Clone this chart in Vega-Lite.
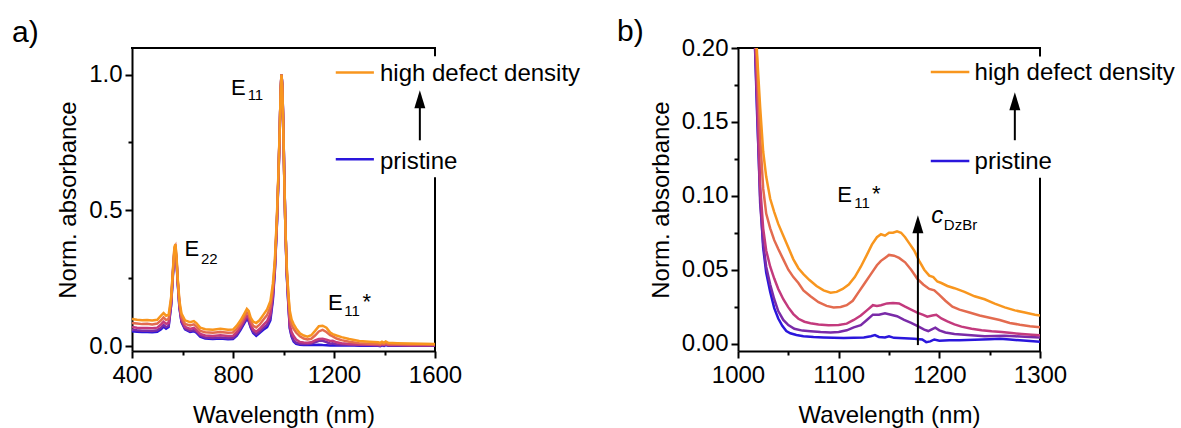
{
  "$schema": "https://vega.github.io/schema/vega-lite/v6.json",
  "padding": {"left": 12, "top": 16, "right": 5, "bottom": 2},
  "bounds": "flush",
  "spacing": 303,
  "config": {
    "view": {"stroke": null},
    "font": "Liberation Sans",
    "title": {"font": "Liberation Sans", "fontSize": 30, "fontWeight": "normal", "color": "black"},
    "axis": {
      "domainColor": "black", "domainWidth": 2, "tickColor": "black", "tickWidth": 2,
      "labelFont": "Liberation Sans", "titleFont": "Liberation Sans",
      "labelFontSize": 24, "titleFontSize": 24, "titleFontWeight": "normal",
      "labelColor": "black", "titleColor": "black", "grid": false,
      "labelFlush": false, "labelOverlap": false
    },
    "axisX": {"labelPadding": 5, "titlePadding": 16},
    "axisY": {"labelPadding": 3, "titlePadding": 8}
  },
  "datasets": {
    "specA": [
      {"w":400,"O":0.100,"C":0.085,"M":0.070,"P":0.060,"B":0.055},
      {"w":420,"O":0.097,"C":0.083,"M":0.068,"P":0.058,"B":0.053},
      {"w":440,"O":0.095,"C":0.081,"M":0.067,"P":0.057,"B":0.052},
      {"w":460,"O":0.096,"C":0.082,"M":0.067,"P":0.057,"B":0.052},
      {"w":480,"O":0.094,"C":0.080,"M":0.066,"P":0.056,"B":0.051},
      {"w":500,"O":0.097,"C":0.083,"M":0.068,"P":0.058,"B":0.053},
      {"w":515,"O":0.112,"C":0.095,"M":0.080,"P":0.068,"B":0.062},
      {"w":525,"O":0.122,"C":0.106,"M":0.090,"P":0.078,"B":0.072},
      {"w":535,"O":0.112,"C":0.096,"M":0.082,"P":0.070,"B":0.064},
      {"w":545,"O":0.115,"C":0.100,"M":0.086,"P":0.075,"B":0.070},
      {"w":555,"O":0.180,"C":0.170,"M":0.162,"P":0.155,"B":0.150},
      {"w":562,"O":0.280,"C":0.275,"M":0.270,"P":0.265,"B":0.260},
      {"w":568,"O":0.365,"C":0.360,"M":0.352,"P":0.348,"B":0.345},
      {"w":572,"O":0.375,"C":0.368,"M":0.360,"P":0.355,"B":0.350},
      {"w":576,"O":0.335,"C":0.328,"M":0.322,"P":0.318,"B":0.315},
      {"w":581,"O":0.250,"C":0.245,"M":0.240,"P":0.237,"B":0.233},
      {"w":588,"O":0.165,"C":0.155,"M":0.148,"P":0.143,"B":0.140},
      {"w":596,"O":0.120,"C":0.108,"M":0.098,"P":0.092,"B":0.088},
      {"w":610,"O":0.095,"C":0.082,"M":0.071,"P":0.065,"B":0.062},
      {"w":630,"O":0.088,"C":0.076,"M":0.063,"P":0.056,"B":0.052},
      {"w":645,"O":0.092,"C":0.080,"M":0.067,"P":0.059,"B":0.055},
      {"w":655,"O":0.085,"C":0.072,"M":0.060,"P":0.053,"B":0.050},
      {"w":670,"O":0.068,"C":0.056,"M":0.045,"P":0.039,"B":0.035},
      {"w":690,"O":0.062,"C":0.051,"M":0.039,"P":0.032,"B":0.028},
      {"w":720,"O":0.060,"C":0.049,"M":0.037,"P":0.030,"B":0.026},
      {"w":750,"O":0.064,"C":0.052,"M":0.040,"P":0.032,"B":0.028},
      {"w":780,"O":0.060,"C":0.049,"M":0.037,"P":0.029,"B":0.025},
      {"w":800,"O":0.061,"C":0.050,"M":0.038,"P":0.030,"B":0.026},
      {"w":815,"O":0.075,"C":0.063,"M":0.051,"P":0.043,"B":0.038},
      {"w":830,"O":0.095,"C":0.083,"M":0.072,"P":0.065,"B":0.060},
      {"w":845,"O":0.120,"C":0.108,"M":0.097,"P":0.090,"B":0.085},
      {"w":855,"O":0.137,"C":0.124,"M":0.112,"P":0.105,"B":0.100},
      {"w":862,"O":0.130,"C":0.117,"M":0.105,"P":0.097,"B":0.092},
      {"w":870,"O":0.105,"C":0.092,"M":0.080,"P":0.072,"B":0.068},
      {"w":880,"O":0.090,"C":0.075,"M":0.061,"P":0.053,"B":0.048},
      {"w":892,"O":0.085,"C":0.069,"M":0.053,"P":0.044,"B":0.038},
      {"w":905,"O":0.095,"C":0.079,"M":0.063,"P":0.054,"B":0.048},
      {"w":920,"O":0.115,"C":0.097,"M":0.078,"P":0.067,"B":0.060},
      {"w":935,"O":0.135,"C":0.114,"M":0.092,"P":0.079,"B":0.070},
      {"w":948,"O":0.165,"C":0.144,"M":0.120,"P":0.104,"B":0.095},
      {"w":958,"O":0.230,"C":0.212,"M":0.193,"P":0.180,"B":0.170},
      {"w":966,"O":0.320,"C":0.306,"M":0.295,"P":0.287,"B":0.280},
      {"w":974,"O":0.480,"C":0.470,"M":0.462,"P":0.455,"B":0.450},
      {"w":980,"O":0.640,"C":0.633,"M":0.628,"P":0.623,"B":0.620},
      {"w":985,"O":0.800,"C":0.797,"M":0.794,"P":0.792,"B":0.790},
      {"w":989,"O":0.950,"C":0.948,"M":0.947,"P":0.946,"B":0.945},
      {"w":992,"O":1.000,"C":1.000,"M":1.000,"P":1.000,"B":1.000},
      {"w":995,"O":0.960,"C":0.961,"M":0.962,"P":0.964,"B":0.965},
      {"w":999,"O":0.820,"C":0.822,"M":0.825,"P":0.828,"B":0.830},
      {"w":1003,"O":0.620,"C":0.622,"M":0.625,"P":0.628,"B":0.630},
      {"w":1008,"O":0.420,"C":0.420,"M":0.420,"P":0.420,"B":0.420},
      {"w":1013,"O":0.290,"C":0.282,"M":0.272,"P":0.266,"B":0.260},
      {"w":1019,"O":0.195,"C":0.190,"M":0.170,"P":0.160,"B":0.155},
      {"w":1025,"O":0.130,"C":0.105,"M":0.078,"P":0.068,"B":0.065},
      {"w":1032,"O":0.098,"C":0.078,"M":0.052,"P":0.040,"B":0.035},
      {"w":1040,"O":0.081,"C":0.064,"M":0.037,"P":0.022,"B":0.017},
      {"w":1050,"O":0.065,"C":0.050,"M":0.0245,"P":0.0125,"B":0.0085},
      {"w":1065,"O":0.047,"C":0.036,"M":0.0148,"P":0.0088,"B":0.005},
      {"w":1080,"O":0.039,"C":0.028,"M":0.013,"P":0.0078,"B":0.0045},
      {"w":1095,"O":0.035,"C":0.0245,"M":0.0125,"P":0.0075,"B":0.004},
      {"w":1110,"O":0.040,"C":0.027,"M":0.014,"P":0.0095,"B":0.0039},
      {"w":1125,"O":0.056,"C":0.039,"M":0.021,"P":0.014,"B":0.0042},
      {"w":1140,"O":0.073,"C":0.054,"M":0.026,"P":0.0195,"B":0.005},
      {"w":1155,"O":0.075,"C":0.0595,"M":0.0275,"P":0.0195,"B":0.0039},
      {"w":1170,"O":0.068,"C":0.052,"M":0.024,"P":0.015,"B":0.0035},
      {"w":1185,"O":0.050,"C":0.040,"M":0.019,"P":0.009,"B":0.0025},
      {"w":1195,"O":0.044,"C":0.036,"M":0.0195,"P":0.0108,"B":0.0028},
      {"w":1210,"O":0.039,"C":0.028,"M":0.014,"P":0.0072,"B":0.0022},
      {"w":1230,"O":0.033,"C":0.022,"M":0.0105,"P":0.006,"B":0.0025},
      {"w":1260,"O":0.026,"C":0.016,"M":0.0078,"P":0.0052,"B":0.0033},
      {"w":1300,"O":0.019,"C":0.011,"M":0.0057,"P":0.0042,"B":0.0012},
      {"w":1340,"O":0.016,"C":0.009,"M":0.005,"P":0.0038,"B":0.0015},
      {"w":1375,"O":0.014,"C":0.008,"M":0.0045,"P":0.0035,"B":0.0015},
      {"w":1383,"O":0.012,"C":0.006,"M":0.003,"P":0.002,"B":0.000},
      {"w":1390,"O":0.016,"C":0.010,"M":0.006,"P":0.005,"B":0.003},
      {"w":1398,"O":0.012,"C":0.007,"M":0.004,"P":0.003,"B":0.001},
      {"w":1405,"O":0.017,"C":0.011,"M":0.007,"P":0.006,"B":0.004},
      {"w":1415,"O":0.012,"C":0.007,"M":0.004,"P":0.003,"B":0.0015},
      {"w":1450,"O":0.011,"C":0.007,"M":0.004,"P":0.003,"B":0.0015},
      {"w":1500,"O":0.010,"C":0.006,"M":0.0035,"P":0.0025,"B":0.0012},
      {"w":1550,"O":0.009,"C":0.006,"M":0.003,"P":0.0022,"B":0.001},
      {"w":1600,"O":0.008,"C":0.005,"M":0.003,"P":0.002,"B":0.001}
    ],
    "specB": [
      {"s":"B","w":1016,"a":0.22},{"s":"B","w":1019,"a":0.155},{"s":"B","w":1022,"a":0.10},{"s":"B","w":1025,"a":0.065},{"s":"B","w":1028,"a":0.048},{"s":"B","w":1032,"a":0.035},{"s":"B","w":1036,"a":0.024},{"s":"B","w":1040,"a":0.017},{"s":"B","w":1044,"a":0.012},{"s":"B","w":1048,"a":0.0085},{"s":"B","w":1052,"a":0.007},{"s":"B","w":1058,"a":0.0058},{"s":"B","w":1065,"a":0.005},{"s":"B","w":1075,"a":0.0045},{"s":"B","w":1085,"a":0.0042},{"s":"B","w":1095,"a":0.004},{"s":"B","w":1105,"a":0.0038},{"s":"B","w":1115,"a":0.004},{"s":"B","w":1125,"a":0.0042},{"s":"B","w":1132,"a":0.005},{"s":"B","w":1136,"a":0.0058},{"s":"B","w":1140,"a":0.0045},{"s":"B","w":1146,"a":0.0042},{"s":"B","w":1150,"a":0.005},{"s":"B","w":1155,"a":0.0039},{"s":"B","w":1165,"a":0.0036},{"s":"B","w":1175,"a":0.0033},{"s":"B","w":1183,"a":0.0028},{"s":"B","w":1187,"a":0.001},{"s":"B","w":1191,"a":0.0015},{"s":"B","w":1195,"a":0.0028},{"s":"B","w":1200,"a":0.002},{"s":"B","w":1210,"a":0.0022},{"s":"B","w":1220,"a":0.0023},{"s":"B","w":1235,"a":0.0026},{"s":"B","w":1250,"a":0.003},{"s":"B","w":1260,"a":0.0033},{"s":"B","w":1270,"a":0.0028},{"s":"B","w":1280,"a":0.0022},{"s":"B","w":1290,"a":0.0017},{"s":"B","w":1300,"a":0.0012},
      {"s":"P","w":1016,"a":0.22},{"s":"P","w":1019,"a":0.16},{"s":"P","w":1022,"a":0.095},{"s":"P","w":1025,"a":0.068},{"s":"P","w":1028,"a":0.052},{"s":"P","w":1032,"a":0.040},{"s":"P","w":1036,"a":0.030},{"s":"P","w":1040,"a":0.022},{"s":"P","w":1045,"a":0.016},{"s":"P","w":1050,"a":0.0125},{"s":"P","w":1056,"a":0.010},{"s":"P","w":1064,"a":0.0088},{"s":"P","w":1072,"a":0.0083},{"s":"P","w":1082,"a":0.0078},{"s":"P","w":1092,"a":0.0075},{"s":"P","w":1100,"a":0.0078},{"s":"P","w":1108,"a":0.009},{"s":"P","w":1115,"a":0.011},{"s":"P","w":1122,"a":0.0125},{"s":"P","w":1128,"a":0.016},{"s":"P","w":1134,"a":0.0196},{"s":"P","w":1140,"a":0.0195},{"s":"P","w":1146,"a":0.0205},{"s":"P","w":1152,"a":0.0195},{"s":"P","w":1158,"a":0.0185},{"s":"P","w":1165,"a":0.016},{"s":"P","w":1172,"a":0.014},{"s":"P","w":1179,"a":0.0117},{"s":"P","w":1185,"a":0.0095},{"s":"P","w":1189,"a":0.0085},{"s":"P","w":1192,"a":0.0095},{"s":"P","w":1196,"a":0.0108},{"s":"P","w":1200,"a":0.009},{"s":"P","w":1206,"a":0.0075},{"s":"P","w":1215,"a":0.0065},{"s":"P","w":1225,"a":0.006},{"s":"P","w":1235,"a":0.0055},{"s":"P","w":1245,"a":0.005},{"s":"P","w":1255,"a":0.0052},{"s":"P","w":1265,"a":0.0053},{"s":"P","w":1275,"a":0.005},{"s":"P","w":1285,"a":0.0046},{"s":"P","w":1300,"a":0.0042},
      {"s":"M","w":1016,"a":0.23},{"s":"M","w":1019,"a":0.17},{"s":"M","w":1022,"a":0.107},{"s":"M","w":1025,"a":0.078},{"s":"M","w":1028,"a":0.063},{"s":"M","w":1032,"a":0.052},{"s":"M","w":1036,"a":0.044},{"s":"M","w":1040,"a":0.037},{"s":"M","w":1045,"a":0.030},{"s":"M","w":1050,"a":0.0245},{"s":"M","w":1055,"a":0.020},{"s":"M","w":1060,"a":0.0168},{"s":"M","w":1066,"a":0.0148},{"s":"M","w":1072,"a":0.0138},{"s":"M","w":1080,"a":0.013},{"s":"M","w":1090,"a":0.0125},{"s":"M","w":1100,"a":0.0126},{"s":"M","w":1108,"a":0.0135},{"s":"M","w":1115,"a":0.016},{"s":"M","w":1122,"a":0.019},{"s":"M","w":1128,"a":0.0225},{"s":"M","w":1134,"a":0.026},{"s":"M","w":1138,"a":0.0255},{"s":"M","w":1142,"a":0.026},{"s":"M","w":1148,"a":0.0272},{"s":"M","w":1154,"a":0.0275},{"s":"M","w":1160,"a":0.0272},{"s":"M","w":1166,"a":0.025},{"s":"M","w":1172,"a":0.023},{"s":"M","w":1178,"a":0.021},{"s":"M","w":1184,"a":0.0195},{"s":"M","w":1188,"a":0.0182},{"s":"M","w":1193,"a":0.019},{"s":"M","w":1197,"a":0.0195},{"s":"M","w":1202,"a":0.017},{"s":"M","w":1208,"a":0.015},{"s":"M","w":1215,"a":0.013},{"s":"M","w":1222,"a":0.0115},{"s":"M","w":1232,"a":0.010},{"s":"M","w":1242,"a":0.009},{"s":"M","w":1252,"a":0.0083},{"s":"M","w":1262,"a":0.0078},{"s":"M","w":1272,"a":0.0071},{"s":"M","w":1282,"a":0.0065},{"s":"M","w":1292,"a":0.006},{"s":"M","w":1300,"a":0.0057},
      {"s":"C","w":1016,"a":0.24},{"s":"C","w":1019,"a":0.19},{"s":"C","w":1022,"a":0.14},{"s":"C","w":1025,"a":0.105},{"s":"C","w":1028,"a":0.088},{"s":"C","w":1032,"a":0.078},{"s":"C","w":1036,"a":0.070},{"s":"C","w":1040,"a":0.064},{"s":"C","w":1045,"a":0.057},{"s":"C","w":1050,"a":0.050},{"s":"C","w":1055,"a":0.045},{"s":"C","w":1060,"a":0.041},{"s":"C","w":1065,"a":0.036},{"s":"C","w":1072,"a":0.032},{"s":"C","w":1080,"a":0.028},{"s":"C","w":1088,"a":0.0255},{"s":"C","w":1095,"a":0.0245},{"s":"C","w":1102,"a":0.0248},{"s":"C","w":1108,"a":0.026},{"s":"C","w":1114,"a":0.029},{"s":"C","w":1120,"a":0.035},{"s":"C","w":1126,"a":0.041},{"s":"C","w":1132,"a":0.047},{"s":"C","w":1138,"a":0.053},{"s":"C","w":1142,"a":0.056},{"s":"C","w":1146,"a":0.058},{"s":"C","w":1150,"a":0.060},{"s":"C","w":1155,"a":0.0595},{"s":"C","w":1160,"a":0.058},{"s":"C","w":1166,"a":0.055},{"s":"C","w":1172,"a":0.050},{"s":"C","w":1178,"a":0.044},{"s":"C","w":1184,"a":0.040},{"s":"C","w":1190,"a":0.037},{"s":"C","w":1195,"a":0.036},{"s":"C","w":1200,"a":0.033},{"s":"C","w":1206,"a":0.029},{"s":"C","w":1213,"a":0.025},{"s":"C","w":1220,"a":0.023},{"s":"C","w":1230,"a":0.021},{"s":"C","w":1240,"a":0.019},{"s":"C","w":1250,"a":0.0175},{"s":"C","w":1260,"a":0.016},{"s":"C","w":1270,"a":0.014},{"s":"C","w":1280,"a":0.0128},{"s":"C","w":1290,"a":0.0118},{"s":"C","w":1300,"a":0.011},
      {"s":"O","w":1016,"a":0.24},{"s":"O","w":1019,"a":0.195},{"s":"O","w":1022,"a":0.16},{"s":"O","w":1025,"a":0.13},{"s":"O","w":1028,"a":0.113},{"s":"O","w":1032,"a":0.098},{"s":"O","w":1036,"a":0.089},{"s":"O","w":1040,"a":0.081},{"s":"O","w":1045,"a":0.073},{"s":"O","w":1050,"a":0.065},{"s":"O","w":1055,"a":0.057},{"s":"O","w":1060,"a":0.051},{"s":"O","w":1065,"a":0.047},{"s":"O","w":1071,"a":0.043},{"s":"O","w":1078,"a":0.039},{"s":"O","w":1085,"a":0.036},{"s":"O","w":1092,"a":0.0345},{"s":"O","w":1098,"a":0.035},{"s":"O","w":1104,"a":0.037},{"s":"O","w":1110,"a":0.040},{"s":"O","w":1116,"a":0.045},{"s":"O","w":1122,"a":0.052},{"s":"O","w":1128,"a":0.060},{"s":"O","w":1133,"a":0.067},{"s":"O","w":1138,"a":0.072},{"s":"O","w":1142,"a":0.074},{"s":"O","w":1146,"a":0.073},{"s":"O","w":1150,"a":0.075},{"s":"O","w":1154,"a":0.075},{"s":"O","w":1158,"a":0.076},{"s":"O","w":1162,"a":0.075},{"s":"O","w":1166,"a":0.072},{"s":"O","w":1170,"a":0.068},{"s":"O","w":1175,"a":0.063},{"s":"O","w":1180,"a":0.056},{"s":"O","w":1185,"a":0.050},{"s":"O","w":1190,"a":0.046},{"s":"O","w":1194,"a":0.045},{"s":"O","w":1198,"a":0.042},{"s":"O","w":1202,"a":0.041},{"s":"O","w":1208,"a":0.039},{"s":"O","w":1215,"a":0.0375},{"s":"O","w":1225,"a":0.035},{"s":"O","w":1235,"a":0.032},{"s":"O","w":1245,"a":0.030},{"s":"O","w":1255,"a":0.027},{"s":"O","w":1265,"a":0.0245},{"s":"O","w":1275,"a":0.0225},{"s":"O","w":1285,"a":0.021},{"s":"O","w":1295,"a":0.0195},{"s":"O","w":1300,"a":0.019}
    ]
  },
  "hconcat": [
    {
      "width": 303, "height": 303,
      "title": {"text": "a)", "anchor": "start", "frame": "group", "dx": -120, "offset": -25, "baseline": "alphabetic"},
      "resolve": {"axis": {"x": "independent", "y": "independent"}},
      "layer": [
        {
          "data": {"values": [
            {"x1":400,"x2":1600,"y1":1.098,"y2":1.098},
            {"x1":1600,"x2":1600,"y1":-0.018,"y2":0.618},
            {"x1":1600,"x2":1600,"y1":1.071,"y2":1.098}
          ]},
          "mark": {"type": "rule", "color": "black", "strokeWidth": 2, "strokeCap": "square"},
          "encoding": {
            "x": {"field": "x1", "type": "quantitative", "scale": {"domain": [400, 1600], "nice": false, "zero": false},
              "axis": {"orient": "bottom", "title": "Wavelength (nm)", "values": [400, 600, 800, 1000, 1200, 1400, 1600], "format": "d",
                "labelExpr": "datum.value % 400 === 0 ? datum.label : ''",
                "tickSize": {"condition": {"test": "datum.value % 400 === 0", "value": 7}, "value": 4}}},
            "x2": {"field": "x2"},
            "y": {"field": "y1", "type": "quantitative", "scale": {"domain": [-0.018, 1.098], "nice": false, "zero": false},
              "axis": {"orient": "left", "title": "Norm. absorbance", "values": [0, 0.25, 0.5, 0.75, 1.0], "format": ".1f",
                "labelExpr": "abs(datum.value*2 - round(datum.value*2)) < 0.000001 ? datum.label : ''",
                "tickSize": {"condition": {"test": "abs(datum.value*2 - round(datum.value*2)) < 0.000001", "value": 7}, "value": 4}}},
            "y2": {"field": "y2"}
          }
        },
        {
          "data": {"name": "specA"},
          "transform": [{"fold": ["B", "P", "M", "C", "O"], "as": ["s", "a"]}],
          "mark": {"type": "line", "strokeWidth": 2.5},
          "encoding": {
            "x": {"field": "w", "type": "quantitative", "scale": {"domain": [400, 1600], "nice": false, "zero": false}, "axis": null},
            "y": {"field": "a", "type": "quantitative", "scale": {"domain": [-0.018, 1.098], "nice": false, "zero": false}, "axis": null},
            "color": {"field": "s", "type": "nominal", "scale": {"domain": ["B", "P", "M", "C", "O"], "range": ["#2a16dc", "#7a2ba8", "#c33a7d", "#e36b4f", "#f8961e"]}, "legend": null}
          }
        },
        {
          "data": {"values": [
            {"x1":1207,"x2":1358,"y":1.0074,"s":"O"},
            {"x1":1207,"x2":1358,"y":0.688,"s":"B"}
          ]},
          "mark": {"type": "rule", "strokeWidth": 2.5},
          "encoding": {
            "x": {"field": "x1", "type": "quantitative", "scale": {"domain": [400, 1600], "nice": false, "zero": false}, "axis": null},
            "x2": {"field": "x2"},
            "y": {"field": "y", "type": "quantitative", "scale": {"domain": [-0.018, 1.098], "nice": false, "zero": false}, "axis": null},
            "color": {"field": "s", "type": "nominal", "scale": {"domain": ["B", "P", "M", "C", "O"], "range": ["#2a16dc", "#7a2ba8", "#c33a7d", "#e36b4f", "#f8961e"]}, "legend": null}
          }
        },
        {
          "data": {"values": [
            {"x":1382,"y":0.9764,"t":"high defect density"},
            {"x":1382,"y":0.6537,"t":"pristine"}
          ]},
          "mark": {"type": "text", "fontSize": 24, "align": "left", "baseline": "alphabetic", "color": "black"},
          "encoding": {
            "x": {"field": "x", "type": "quantitative", "scale": {"domain": [400, 1600], "nice": false, "zero": false}, "axis": null},
            "y": {"field": "y", "type": "quantitative", "scale": {"domain": [-0.018, 1.098], "nice": false, "zero": false}, "axis": null},
            "text": {"field": "t"}
          }
        },
        {
          "data": {"values": [{"x":1540,"y1":0.758,"y2":0.9}]},
          "mark": {"type": "rule", "color": "black", "strokeWidth": 2},
          "encoding": {
            "x": {"field": "x", "type": "quantitative", "scale": {"domain": [400, 1600], "nice": false, "zero": false}, "axis": null},
            "y": {"field": "y1", "type": "quantitative", "scale": {"domain": [-0.018, 1.098], "nice": false, "zero": false}, "axis": null},
            "y2": {"field": "y2"}
          }
        },
        {
          "data": {"values": [{"x":1540,"y":0.909}]},
          "mark": {"type": "point", "shape": "M0,-1L0.61,1L-0.61,1Z", "size": 324, "filled": true, "color": "black", "opacity": 1},
          "encoding": {
            "x": {"field": "x", "type": "quantitative", "scale": {"domain": [400, 1600], "nice": false, "zero": false}, "axis": null},
            "y": {"field": "y", "type": "quantitative", "scale": {"domain": [-0.018, 1.098], "nice": false, "zero": false}, "axis": null}
          }
        },
        {
          "data": {"values": [
            {"x":792,"y":0.925,"t":"E"},
            {"x":608,"y":0.3305,"t":"E"},
            {"x":1176,"y":0.1315,"t":"E"},
            {"x":1313,"y":0.1363,"t":"*"}
          ]},
          "mark": {"type": "text", "fontSize": 22, "align": "left", "baseline": "alphabetic", "color": "black"},
          "encoding": {
            "x": {"field": "x", "type": "quantitative", "scale": {"domain": [400, 1600], "nice": false, "zero": false}, "axis": null},
            "y": {"field": "y", "type": "quantitative", "scale": {"domain": [-0.018, 1.098], "nice": false, "zero": false}, "axis": null},
            "text": {"field": "t"}
          }
        },
        {
          "data": {"values": [
            {"x":858,"y":0.905,"t":"11"},
            {"x":673,"y":0.3036,"t":"22"},
            {"x":1241,"y":0.1094,"t":"11"}
          ]},
          "mark": {"type": "text", "fontSize": 15, "align": "left", "baseline": "alphabetic", "color": "black"},
          "encoding": {
            "x": {"field": "x", "type": "quantitative", "scale": {"domain": [400, 1600], "nice": false, "zero": false}, "axis": null},
            "y": {"field": "y", "type": "quantitative", "scale": {"domain": [-0.018, 1.098], "nice": false, "zero": false}, "axis": null},
            "text": {"field": "t"}
          }
        }
      ]
    },
    {
      "width": 302, "height": 303,
      "title": {"text": "b)", "anchor": "start", "frame": "group", "dx": -121, "offset": -34.6, "baseline": "alphabetic"},
      "resolve": {"axis": {"x": "independent", "y": "independent"}},
      "layer": [
        {
          "data": {"values": [
            {"x1":1000,"x2":1300,"y1":0.2,"y2":0.2},
            {"x1":1300,"x2":1300,"y1":-0.005,"y2":0.1116},
            {"x1":1300,"x2":1300,"y1":0.195,"y2":0.2}
          ]},
          "mark": {"type": "rule", "color": "black", "strokeWidth": 2, "strokeCap": "square"},
          "encoding": {
            "x": {"field": "x1", "type": "quantitative", "scale": {"domain": [1000, 1300], "nice": false, "zero": false},
              "axis": {"orient": "bottom", "title": "Wavelength (nm)", "values": [1000, 1050, 1100, 1150, 1200, 1250, 1300], "format": "d",
                "labelExpr": "datum.value % 100 === 0 ? datum.label : ''",
                "tickSize": {"condition": {"test": "datum.value % 100 === 0", "value": 7}, "value": 4}}},
            "x2": {"field": "x2"},
            "y": {"field": "y1", "type": "quantitative", "scale": {"domain": [-0.005, 0.2], "nice": false, "zero": false},
              "axis": {"orient": "left", "title": "Norm. absorbance", "values": [0, 0.025, 0.05, 0.075, 0.1, 0.125, 0.15, 0.175, 0.2], "format": ".2f",
                "labelExpr": "abs(datum.value*20 - round(datum.value*20)) < 0.000001 ? datum.label : ''",
                "tickSize": {"condition": {"test": "abs(datum.value*20 - round(datum.value*20)) < 0.000001", "value": 7}, "value": 4}}},
            "y2": {"field": "y2"}
          }
        },
        {
          "data": {"name": "specB"},
          "mark": {"type": "line", "strokeWidth": 2.5, "clip": true},
          "encoding": {
            "x": {"field": "w", "type": "quantitative", "scale": {"domain": [1000, 1300], "nice": false, "zero": false}, "axis": null},
            "y": {"field": "a", "type": "quantitative", "scale": {"domain": [-0.005, 0.2], "nice": false, "zero": false}, "axis": null},
            "color": {"field": "s", "type": "nominal", "scale": {"domain": ["B", "P", "M", "C", "O"], "range": ["#2a16dc", "#7a2ba8", "#c33a7d", "#e36b4f", "#f8961e"]}, "legend": null}
          }
        },
        {
          "data": {"values": [
            {"x1":1191.5,"x2":1229.8,"y":0.1838,"s":"O"},
            {"x1":1191.5,"x2":1229.8,"y":0.1236,"s":"B"}
          ]},
          "mark": {"type": "rule", "strokeWidth": 2.5},
          "encoding": {
            "x": {"field": "x1", "type": "quantitative", "scale": {"domain": [1000, 1300], "nice": false, "zero": false}, "axis": null},
            "x2": {"field": "x2"},
            "y": {"field": "y", "type": "quantitative", "scale": {"domain": [-0.005, 0.2], "nice": false, "zero": false}, "axis": null},
            "color": {"field": "s", "type": "nominal", "scale": {"domain": ["B", "P", "M", "C", "O"], "range": ["#2a16dc", "#7a2ba8", "#c33a7d", "#e36b4f", "#f8961e"]}, "legend": null}
          }
        },
        {
          "data": {"values": [
            {"x":1235,"y":0.1781,"t":"high defect density"},
            {"x":1235,"y":0.1184,"t":"pristine"}
          ]},
          "mark": {"type": "text", "fontSize": 24, "align": "left", "baseline": "alphabetic", "color": "black"},
          "encoding": {
            "x": {"field": "x", "type": "quantitative", "scale": {"domain": [1000, 1300], "nice": false, "zero": false}, "axis": null},
            "y": {"field": "y", "type": "quantitative", "scale": {"domain": [-0.005, 0.2], "nice": false, "zero": false}, "axis": null},
            "text": {"field": "t"}
          }
        },
        {
          "data": {"values": [
            {"x":1275,"y1":0.1376,"y2":0.16},
            {"x":1178.7,"y1":-0.001,"y2":0.078}
          ]},
          "mark": {"type": "rule", "color": "black", "strokeWidth": 2},
          "encoding": {
            "x": {"field": "x", "type": "quantitative", "scale": {"domain": [1000, 1300], "nice": false, "zero": false}, "axis": null},
            "y": {"field": "y1", "type": "quantitative", "scale": {"domain": [-0.005, 0.2], "nice": false, "zero": false}, "axis": null},
            "y2": {"field": "y2"}
          }
        },
        {
          "data": {"values": [{"x":1275,"y":0.164},{"x":1178.7,"y":0.0807}]},
          "mark": {"type": "point", "shape": "M0,-1L0.61,1L-0.61,1Z", "size": 324, "filled": true, "color": "black", "opacity": 1},
          "encoding": {
            "x": {"field": "x", "type": "quantitative", "scale": {"domain": [1000, 1300], "nice": false, "zero": false}, "axis": null},
            "y": {"field": "y", "type": "quantitative", "scale": {"domain": [-0.005, 0.2], "nice": false, "zero": false}, "axis": null}
          }
        },
        {
          "data": {"values": [
            {"x":1098.5,"y":0.0958,"t":"E"},
            {"x":1133,"y":0.0963,"t":"*"}
          ]},
          "mark": {"type": "text", "fontSize": 22, "align": "left", "baseline": "alphabetic", "color": "black"},
          "encoding": {
            "x": {"field": "x", "type": "quantitative", "scale": {"domain": [1000, 1300], "nice": false, "zero": false}, "axis": null},
            "y": {"field": "y", "type": "quantitative", "scale": {"domain": [-0.005, 0.2], "nice": false, "zero": false}, "axis": null},
            "text": {"field": "t"}
          }
        },
        {
          "data": {"values": [{"x":1192,"y":0.0816,"t":"c"}]},
          "mark": {"type": "text", "fontSize": 24, "fontStyle": "italic", "align": "left", "baseline": "alphabetic", "color": "black"},
          "encoding": {
            "x": {"field": "x", "type": "quantitative", "scale": {"domain": [1000, 1300], "nice": false, "zero": false}, "axis": null},
            "y": {"field": "y", "type": "quantitative", "scale": {"domain": [-0.005, 0.2], "nice": false, "zero": false}, "axis": null},
            "text": {"field": "t"}
          }
        },
        {
          "data": {"values": [
            {"x":1115.5,"y":0.092,"t":"11"},
            {"x":1204.5,"y":0.0771,"t":"DzBr"}
          ]},
          "mark": {"type": "text", "fontSize": 15, "align": "left", "baseline": "alphabetic", "color": "black"},
          "encoding": {
            "x": {"field": "x", "type": "quantitative", "scale": {"domain": [1000, 1300], "nice": false, "zero": false}, "axis": null},
            "y": {"field": "y", "type": "quantitative", "scale": {"domain": [-0.005, 0.2], "nice": false, "zero": false}, "axis": null},
            "text": {"field": "t"}
          }
        }
      ]
    }
  ]
}
